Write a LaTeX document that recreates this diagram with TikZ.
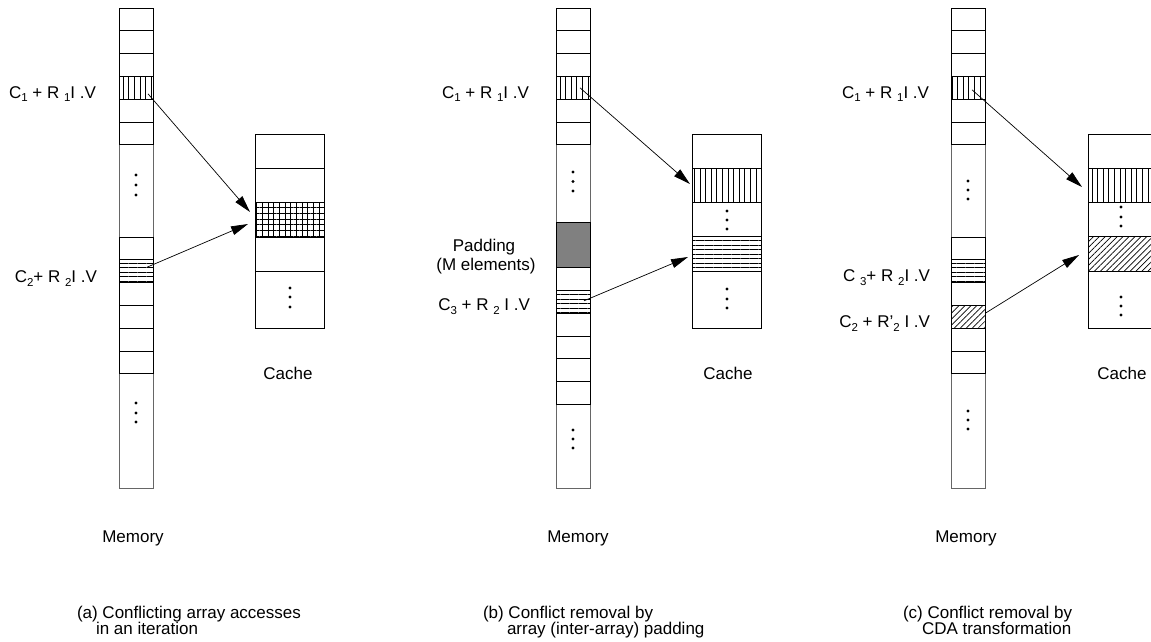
\documentclass[tikz,border=0pt]{standalone}
\usepackage{fontspec}
\setmainfont{Liberation Sans}
\usetikzlibrary{arrows.meta,patterns.meta,calc}
\newcommand\sbs[1]{\raisebox{-0.22em}{\fontsize{11.5}{12}\selectfont #1}}
\begin{document}
\begin{tikzpicture}[x=1pt,y=-1pt,
  cell/.style={draw=black, line width=.95pt, minimum width=34pt, minimum height=22.8pt, inner sep=0pt, outer sep=0pt, anchor=north west},
  tall/.style={draw=black!60, line width=.8pt, minimum width=34pt, inner sep=0pt, outer sep=0pt, anchor=north west},
  cslot/.style={draw=black, line width=.8pt, minimum width=69pt, inner sep=0pt, outer sep=0pt, anchor=north west},
  vhatch/.style={pattern={Lines[angle=90,distance=5.6pt,line width=.8pt]}},
  hhatch/.style={pattern={Lines[angle=0,distance=4.5pt,line width=.8pt]}},
  xhatch/.style={pattern={Hatch[angle=0,distance=5.7pt,line width=.8pt]}},
  dhatch/.style={pattern={Lines[angle=45,distance=4.2pt,line width=.7pt]}},
  pad/.style={fill=black!50},
  lbl/.style={font=\fontsize{17}{20}\selectfont, inner sep=0pt, outer sep=0pt},
  arr/.style={line width=.7pt, -{Triangle[length=17pt,width=9pt]}},
  dot/.style={fill=black}
]
\useasboundingbox (0,0) rectangle (1151,641);
\clip (0,0) rectangle (1151,641);

% ================= Panel (a) =================
\node[tall, minimum height=92.2pt] (at1) at (119,144.8) {};
\node[tall, minimum height=114.2pt] (at2) at (119,373.8) {};
\node[cell] (a1) at (119,8) {};
\node[cell] (a2) at (119,30.8) {};
\node[cell] (a3) at (119,53.6) {};
\node[cell, vhatch] (a4) at (119,76.4) {};
\node[cell] (a5) at (119,99.2) {};
\node[cell] (a6) at (119,122) {};
\node[cell] (a7) at (119,237) {};
\node[cell, hhatch] (a8) at (119,259.8) {};
\node[cell] (a9) at (119,282.6) {};
\node[cell] (a10) at (119,305.4) {};
\node[cell] (a11) at (119,328.2) {};
\node[cell] (a12) at (119,351) {};
\foreach \yy in {175,185,195,403,413,422} \fill[dot] (136,\yy) circle (1.7pt);

\node[cslot, minimum height=34pt] (ak1) at (255,134) {};
\node[cslot, minimum height=34pt] (ak2) at (255,168) {};
\node[cslot, xhatch, minimum height=35pt] (ak3) at (255,202) {};
\node[cslot, minimum height=34pt] (ak4) at (255,237) {};
\node[cslot, minimum height=57pt] (ak5) at (255,271) {};
\foreach \yy in {288,297,307} \fill[dot] (290,\yy) circle (1.7pt);

\coordinate (as1) at ($(a4.center)+(12,6)$);
\coordinate (ae1) at ($(ak3.west)+(-5,-7.5)$);
\coordinate (as2) at ($(a8.center)+(11,-4)$);
\coordinate (ae2) at ($(ak3.west)+(-7,4.5)$);
\draw[arr] (as1) -- (ae1);
\draw[arr] (as2) -- (ae2);

\node[lbl, anchor=base east] (alab1) at (96,98) {C\sbs{1} + R \sbs{1}I .V};
\node[lbl, anchor=base east] (alab2) at (97,282.5) {C\sbs{2}+ R \sbs{2}I .V};
\node[lbl, anchor=base] (acache) at (288,379.5) {Cache};
\node[lbl, anchor=base] (amem) at (133,542.5) {Memory};
\node[lbl, anchor=base west] (acap1) at (77,618) {(a) Conflicting array accesses};
\node[lbl, anchor=base west] (acap2) at (96,634) {in an iteration};

% ================= Panel (b) =================
\node[tall, minimum height=77.2pt] (bt1) at (556,144.8) {};
\node[tall, minimum height=83.6pt] (bt2) at (556,404.4) {};
\node[cell] (b1) at (556,8) {};
\node[cell] (b2) at (556,30.8) {};
\node[cell] (b3) at (556,53.6) {};
\node[cell, vhatch] (b4) at (556,76.4) {};
\node[cell] (b5) at (556,99.2) {};
\node[cell] (b6) at (556,122) {};
\node[cell, pad, minimum height=45.6pt] (bpad) at (556,222) {};
\node[cell] (b7) at (556,267.6) {};
\node[cell, hhatch] (b8) at (556,290.4) {};
\node[cell] (b9) at (556,313.2) {};
\node[cell] (b10) at (556,336) {};
\node[cell] (b11) at (556,358.8) {};
\node[cell] (b12) at (556,381.6) {};
\foreach \yy in {172,181.5,191,430,439,448} \fill[dot] (573,\yy) circle (1.7pt);

\node[cslot, minimum height=34pt] (bk1) at (692,134) {};
\node[cslot, vhatch, minimum height=34pt] (bk2) at (692,168) {};
\node[cslot, minimum height=34pt] (bk3) at (692,202) {};
\node[cslot, hhatch, minimum height=35pt] (bk4) at (692,236) {};
\node[cslot, minimum height=57pt] (bk5) at (692,271) {};
\foreach \yy in {211,220,229,289,299,308} \fill[dot] (727,\yy) circle (1.7pt);

\coordinate (bs1) at ($(b4.center)+(7,0)$);
\coordinate (be1) at ($(bk2.west)+(-2,-1)$);
\coordinate (bs2) at ($(b8.center)+(11,-1)$);
\coordinate (be2) at ($(bk4.west)+(-4,3.5)$);
\draw[arr] (bs1) -- (be1);
\draw[arr] (bs2) -- (be2);

\node[lbl, anchor=base east] (blab1) at (529,98) {C\sbs{1} + R \sbs{1}I .V};
\node[lbl, anchor=base] (bpad1) at (484,251.5) {Padding};
\node[lbl, anchor=base] (bpad2) at (486,270) {(M elements)};
\node[lbl, anchor=base east] (blab2) at (530,310.3) {C\sbs{3} + R \sbs{2} I .V};
\node[lbl, anchor=base] (bcache) at (728,379.5) {Cache};
\node[lbl, anchor=base] (bmem) at (578,542.5) {Memory};
\node[lbl, anchor=base west] (bcap1) at (483,618) {(b) Conflict removal by};
\node[lbl, anchor=base west] (bcap2) at (507,634) {array (inter-array) padding};

% ================= Panel (c) =================
\node[tall, minimum height=92.2pt] (ct1) at (951,144.8) {};
\node[tall, minimum height=114.2pt] (ct2) at (951,373.8) {};
\node[cell] (c1) at (951,8) {};
\node[cell] (c2) at (951,30.8) {};
\node[cell] (c3) at (951,53.6) {};
\node[cell, vhatch] (c4) at (951,76.4) {};
\node[cell] (c5) at (951,99.2) {};
\node[cell] (c6) at (951,122) {};
\node[cell] (c7) at (951,237) {};
\node[cell, hhatch] (c8) at (951,259.8) {};
\node[cell] (c9) at (951,282.6) {};
\node[cell, dhatch] (c10) at (951,305.4) {};
\node[cell] (c11) at (951,328.2) {};
\node[cell] (c12) at (951,351) {};
\foreach \yy in {181,190,199,411,420,429} \fill[dot] (968,\yy) circle (1.7pt);

\node[cslot, minimum height=34pt] (ck1) at (1088,134) {};
\node[cslot, vhatch, minimum height=34pt] (ck2) at (1088,168) {};
\node[cslot, minimum height=34pt] (ck3) at (1088,202) {};
\node[cslot, dhatch, minimum height=35pt] (ck4) at (1088,236) {};
\node[cslot, minimum height=57pt] (ck5) at (1088,271) {};
\foreach \yy in {207,217,226,297,306,315} \fill[dot] (1121,\yy) circle (1.7pt);

\coordinate (cs1) at ($(c4.center)+(4,2)$);
\coordinate (ce1) at ($(ck2.west)+(-6,2)$);
\coordinate (cs2) at ($(c10.center)+(18,-4)$);
\coordinate (ce2) at ($(ck4.west)+(-9,1.5)$);
\draw[arr] (cs1) -- (ce1);
\draw[arr] (cs2) -- (ce2);

\node[lbl, anchor=base east] (clab1) at (929,98) {C\sbs{1} + R \sbs{1}I .V};
\node[lbl, anchor=base east] (clab2) at (930,281.5) {C \sbs{3}+ R \sbs{2}I .V};
\node[lbl, anchor=base east] (clab3) at (930,327.5) {C\sbs{2} + R'\sbs{2} I .V};
\node[lbl, anchor=base] (ccache) at (1122,379.5) {Cache};
\node[lbl, anchor=base] (cmem) at (966,542.5) {Memory};
\node[lbl, anchor=base west] (ccap1) at (903,618) {(c) Conflict removal by};
\node[lbl, anchor=base west] (ccap2) at (922,634) {CDA transformation};
\end{tikzpicture}
\end{document}
